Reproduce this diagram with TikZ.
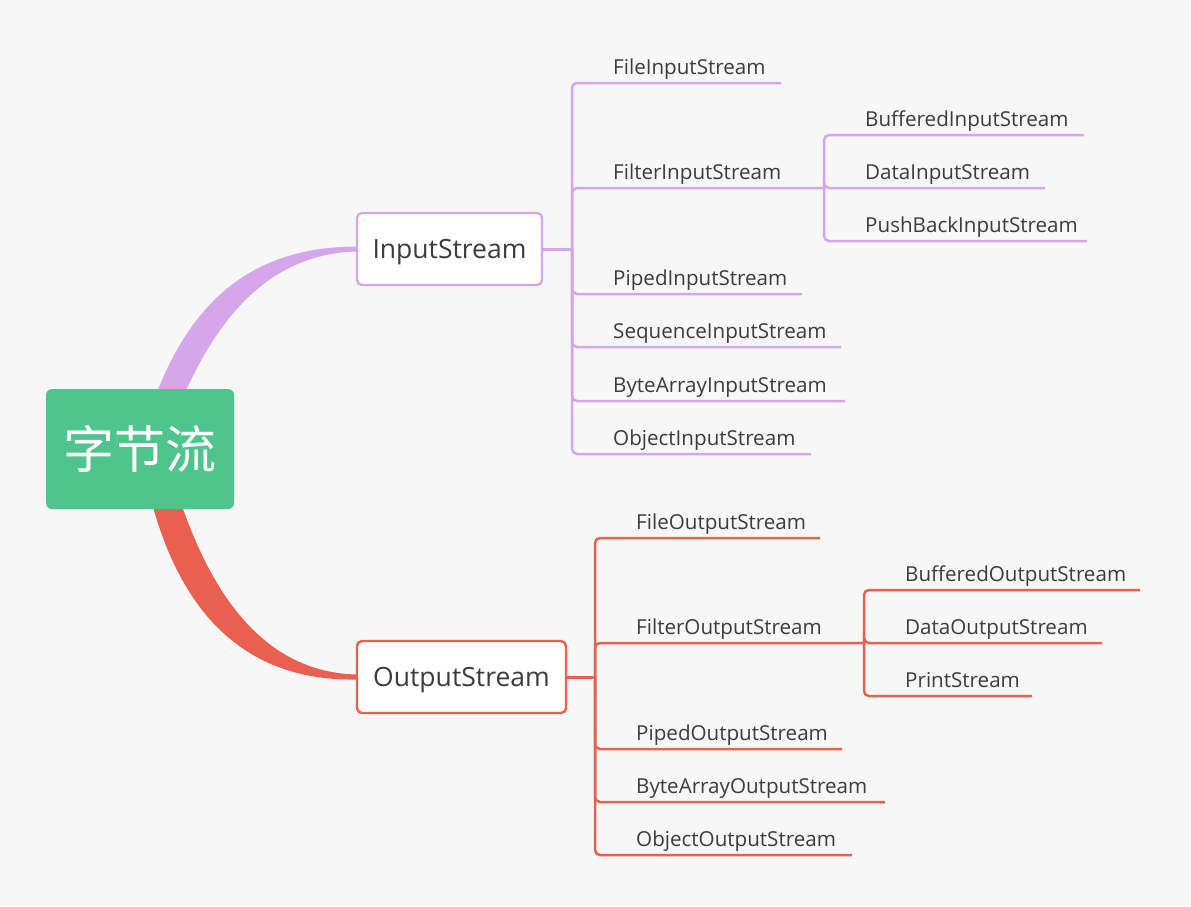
\documentclass[tikz,border=0pt]{standalone}
\usepackage{fontspec}
\setmainfont{Open Sans}
\newfontfamily\cjk{Noto Sans CJK SC}
\usetikzlibrary{calc,backgrounds}
\definecolor{bgc}{HTML}{F7F7F7}
\definecolor{rootc}{HTML}{50C48D}
\definecolor{pur}{HTML}{D5A6E9}
\definecolor{rd}{HTML}{E95F50}
\definecolor{txt}{HTML}{3C3C3C}
\begin{document}
\begin{tikzpicture}[x=1pt,y=-1pt,
  rootbox/.style={fill=rootc, rounded corners=6pt, minimum width=188pt, minimum height=120pt, text=white, inner sep=0pt, font=\cjk\fontsize{51}{54}\selectfont},
  mainbox/.style={draw, line width=2.4pt, fill=white, rounded corners=5pt, minimum height=72pt, text=txt, inner sep=0pt, text depth=0pt, font=\fontsize{26.5}{30}\selectfont},
  lab/.style={anchor=base west, text=txt, inner sep=0pt, font=\fontsize{20.6}{24}\selectfont},
  pbr/.style={draw=pur, line width=2.5pt, rounded corners=5pt},
  rbr/.style={draw=rd, line width=2.5pt, rounded corners=5pt}]
\useasboundingbox (0,0) rectangle (1191,906);

% main nodes
\node[rootbox] (root) at (140,449) {\raisebox{-3pt}{字节流}};
\node[mainbox, draw=pur, minimum width=185pt] (is) at (449.5,249) {InputStream};
\node[mainbox, draw=rd, minimum width=209pt] (os) at (461.5,677) {OutputStream};

% input children
\node[lab] (fis) at (613,74) {FileInputStream};
\node[lab] (fils) at (613,179) {FilterInputStream};
\node[lab] (pis) at (613,285) {PipedInputStream};
\node[lab] (sis) at (613,338) {SequenceInputStream};
\node[lab] (bais) at (613,392) {ByteArrayInputStream};
\node[lab] (ois) at (613,445) {ObjectInputStream};
\node[lab] (bis) at (865,126) {BufferedInputStream};
\node[lab] (dis) at (865,179) {DataInputStream};
\node[lab] (pbis) at (865,232) {PushBackInputStream};

% output children
\node[lab] (fos) at (636,529) {FileOutputStream};
\node[lab] (filos) at (636,634) {FilterOutputStream};
\node[lab] (pos) at (636,740) {PipedOutputStream};
\node[lab] (baos) at (636,793) {ByteArrayOutputStream};
\node[lab] (oos) at (636,846) {ObjectOutputStream};
\node[lab] (bos) at (905,581) {BufferedOutputStream};
\node[lab] (dos) at (905,634) {DataOutputStream};
\node[lab] (ps) at (905,687) {PrintStream};

% line ends
\coordinate (ij) at (572,249);
\coordinate (fis-e) at (781,83);
\coordinate (fils-e) at (824,188);
\coordinate (pis-e) at (802,294);
\coordinate (sis-e) at (841,347);
\coordinate (bais-e) at (845,401);
\coordinate (ois-e) at (811,454);
\coordinate (bis-e) at (1084,135);
\coordinate (dis-e) at (1045,188);
\coordinate (pbis-e) at (1087,241);

\coordinate (oj) at (595,677);
\coordinate (fos-e) at (820,538);
\coordinate (filos-e) at (864,643);
\coordinate (pos-e) at (842,749);
\coordinate (baos-e) at (885,802);
\coordinate (oos-e) at (852,855);
\coordinate (bos-e) at (1140,590);
\coordinate (dos-e) at (1102,643);
\coordinate (ps-e) at (1032,696);

\begin{scope}[on background layer]
\fill[bgc] (0,0) rectangle (1191,906);
% tapered branches
\fill[pur] ($(root.north)+(16,6)$) .. controls (195,293) and (260,247) .. ($(is.west)+(0,-2.5)$)
  -- ($(is.west)+(0,2.5)$) .. controls (278,254) and (224,305) .. ($(root.north)+(44,6)$) -- cycle;
\fill[rd] ($(root.south)+(12,-6)$) .. controls (185,625) and (255,681) .. ($(os.west)+(0,2.5)$)
  -- ($(os.west)+(0,-2.5)$) .. controls (272,672) and (217,608) .. ($(root.south)+(41,-6)$) -- cycle;
\end{scope}

% input branches
\draw[draw=pur, line width=3pt] (is.east) -- (ij);
\foreach \c in {fis,fils,pis,sis,bais,ois} \draw[pbr] (ij) |- (\c-e);
\coordinate (sj) at (fils-e);
\foreach \c in {bis,dis,pbis} \draw[pbr] (sj) |- (\c-e);

% output branches
\draw[draw=rd, line width=3pt] (os.east) -- (oj);
\foreach \c in {fos,filos,pos,baos,oos} \draw[rbr] (oj) |- (\c-e);
\coordinate (soj) at (filos-e);
\foreach \c in {bos,dos,ps} \draw[rbr] (soj) |- (\c-e);
\end{tikzpicture}
\end{document}
